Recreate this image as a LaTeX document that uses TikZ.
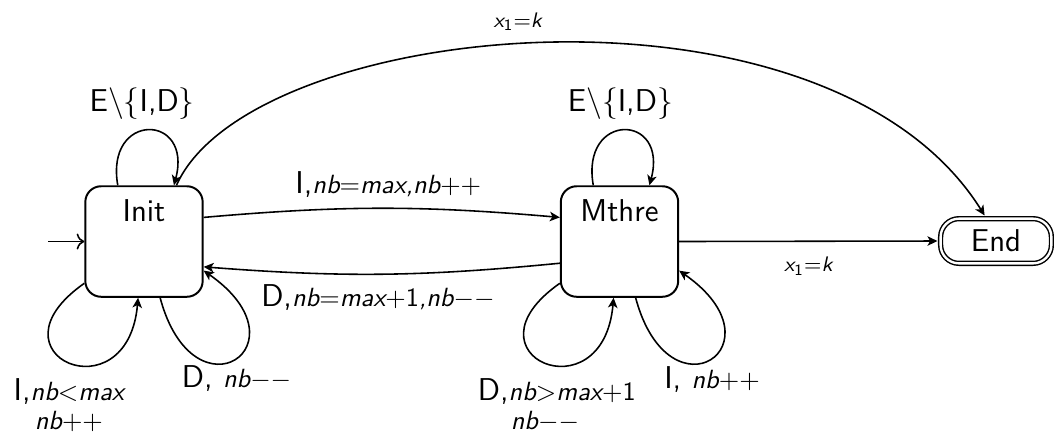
\documentclass[tikz,border=0pt]{standalone}
\usetikzlibrary{arrows.meta}
\newcommand{\sm}[1]{{\fontsize{10}{12}\selectfont\itshape #1}}
\newcommand{\sx}[1]{{\fontsize{8}{9}\selectfont\itshape #1}}
\newcommand{\mo}[1]{$\mathord{#1}$}
\newcommand{\up}[1]{{\upshape #1}}
\begin{document}
\begin{tikzpicture}[x=0.38pt,y=0.38pt,
  every node/.style={font=\large\sffamily},
  statebox/.style={draw, line width=0.75pt, rounded corners=6pt,
    minimum width=44.6pt, minimum height=42pt, inner sep=0pt},
  endbox/.style={draw, line width=0.55pt, double, double distance=0.9pt,
    rounded corners=7pt, minimum width=42.1pt, minimum height=17pt,
    inner sep=0pt, outer sep=1.2pt},
  edge/.style={draw, line width=0.6pt,
    -{Stealth[length=3.8pt,width=3.6pt,inset=1pt]}},
  lab/.style={anchor=base, inner sep=0pt},
  labtwo/.style={anchor=north, inner sep=0pt, align=center},
  sname/.style={anchor=north, inner sep=0pt}]
\useasboundingbox (0,0) rectangle (1054,-434);

% states
\node[statebox] (init) at (144,-241.5) {};
\node[sname] (initname) at ([yshift=-5.3pt]init.north) {Init};
\node[statebox] (mthre) at (619.5,-241.5) {};
\node[sname] (mthrename) at ([yshift=-5.3pt]mthre.north) {Mthre};
\node[endbox] (end) at (996,-241) {End};

% initial arrow
\coordinate (initstart) at (48,-241.5);
\draw[line width=0.6pt,->] (initstart) -- (init.west);

% Init <-> Mthre
\draw[edge] (init.22) to[bend left=5]
  node[lab, xshift=2.5pt, yshift=5.5pt] {I,\sm{nb\mo{=}max,nb\mo{+}\mo{+}}} (mthre.158);
\draw[edge] (mthre.200) to[bend left=5]
  node[lab, xshift=-1.5pt, yshift=-12.2pt] {D,\sm{nb\mo{=}max\mo{+}\up{1},nb\mo{-}\mo{-}}} (init.337);

% Mthre -> End
\draw[edge] (mthre.east) -- node[lab, yshift=-11.6pt] {\sx{x\textsubscript{\upshape 1}\mo{=}k}} (end.west);

% Init -> End (big arc)
\draw[edge] (init.60) .. controls +(74,166) and +(-159,254) ..
  node[lab, pos=0.47, yshift=6.3pt] {\sx{x\textsubscript{\upshape 1}\mo{=}k}} (end.114);

% Init loops
\draw[edge] (init.115) .. controls +(100:75) and +(75:75) ..
  node[lab, xshift=-2.3pt, yshift=7.2pt] {E$\backslash\{$I,D$\}$} (init.62);
\draw[edge] (init.215) .. controls +(215:125) and +(265:120) ..
  node[labtwo, yshift=-6pt] {I,\sm{nb\mo{<}max}\\[-3pt]\sm{nb\mo{+}\mo{+}}} (init.264);
\draw[edge] (init.286) .. controls +(285:130) and +(-35:130) ..
  node[lab, xshift=0.8pt, yshift=-10.6pt] {D, \sm{nb\mo{-}\mo{-}}} (init.334);

% Mthre loops
\draw[edge] (mthre.115) .. controls +(100:75) and +(75:75) ..
  node[lab, xshift=-1.3pt, yshift=7.2pt] {E$\backslash\{$I,D$\}$} (mthre.62);
\draw[edge] (mthre.215) .. controls +(215:125) and +(265:120) ..
  node[labtwo, xshift=4.7pt, yshift=-6pt] {D,\sm{nb\mo{>}max\mo{+}\up{1}}\\[-3pt]\sm{nb\mo{-}\mo{-}}\rule{9pt}{0pt}} (mthre.264);
\draw[edge] (mthre.286) .. controls +(285:130) and +(-35:130) ..
  node[lab, xshift=0.8pt, yshift=-11.1pt] {I, \sm{nb\mo{+}\mo{+}}} (mthre.334);
\end{tikzpicture}
\end{document}
